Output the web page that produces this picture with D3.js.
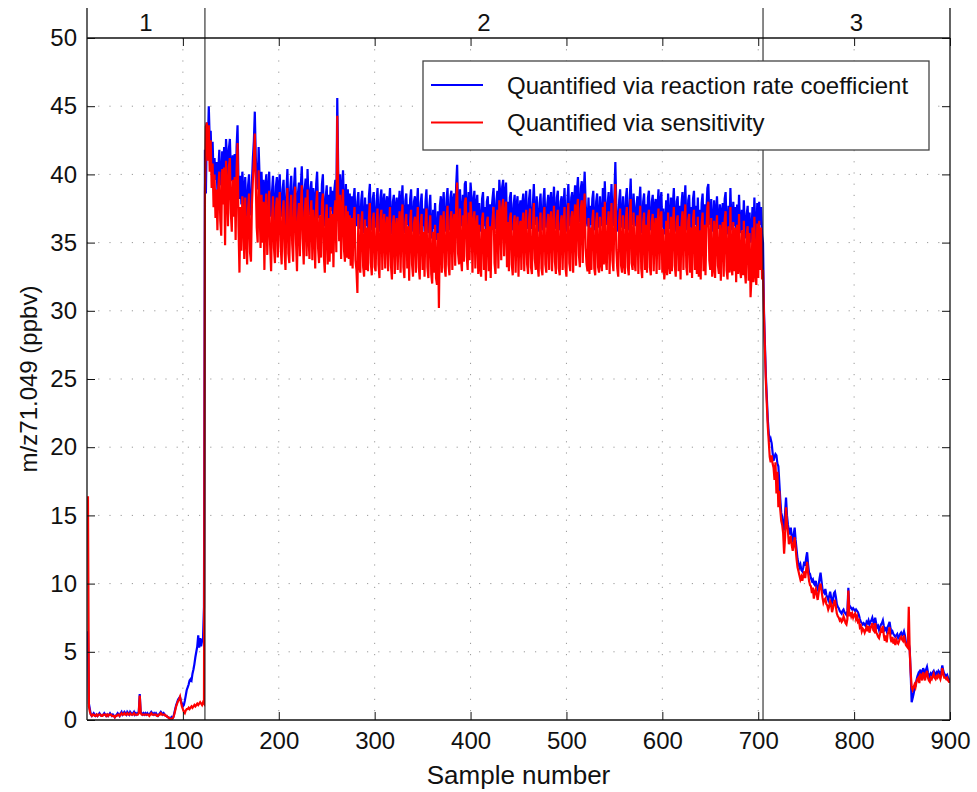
<!DOCTYPE html>
<html lang="en">

<head>
    <meta charset="UTF-8">
    <title>m/z71.049 quantification</title>
    <script src="https://d3js.org/d3.v7.min.js"></script>
    <style>
        body { margin: 0; background: #fff; }
        text { font-family: "Liberation Sans", Arial, sans-serif; fill: #111; }
    </style>
</head>

<body>
    <div id="chart"></div>

    <script>
        // phase 1: samples 1-122, quantified via reaction rate coefficient
        const phase1Rate = [
            6.5, 1.2, 0.8, 0.4, 0.3, 0.4, 0.5, 0.4, 0.3, 0.4,
            0.3, 0.4, 0.5, 0.4, 0.3, 0.3, 0.4, 0.5, 0.4, 0.3,
            0.4, 0.3, 0.4, 0.5, 0.4, 0.3, 0.4, 0.3, 0.2, 0.3,
            0.4, 0.5, 0.4, 0.3, 0.5, 0.6, 0.4, 0.5, 0.6, 0.5,
            0.4, 0.6, 0.5, 0.4, 0.6, 0.5, 0.4, 0.5, 0.6, 0.4,
            0.5, 0.4, 0.5, 0.6, 1.9, 0.6, 0.5, 0.4, 0.5, 0.4,
            0.5, 0.4, 0.5, 0.4, 0.4, 0.5, 0.6, 0.5, 0.4, 0.5,
            0.4, 0.5, 0.4, 0.3, 0.4, 0.5, 0.6, 0.5, 0.4, 0.5,
            0.4, 0.3, 0.3, 0.2, 0.2, 0.1, 0.1, 0.2, 0.1, 0.2,
            0.5, 0.8, 1.1, 1.3, 1.5, 1.6, 1.7, 1.4, 1.2, 1.0,
            1.1, 1.4, 1.8, 2.2, 2.4, 2.6, 2.9, 3.0, 2.9, 3.4,
            3.7, 4.1, 4.6, 5.0, 5.4, 6.2, 5.3, 6.0, 5.4, 5.8,
            6.0, 8.3
        ];
        const phase1Sens = [
            16.4, 1.0, 0.6, 0.4, 0.3, 0.4, 0.4, 0.3, 0.3, 0.4,
            0.3, 0.4, 0.4, 0.4, 0.3, 0.3, 0.4, 0.4, 0.4, 0.3,
            0.4, 0.3, 0.4, 0.4, 0.4, 0.3, 0.3, 0.3, 0.2, 0.3,
            0.3, 0.4, 0.4, 0.3, 0.4, 0.5, 0.4, 0.4, 0.5, 0.4,
            0.4, 0.5, 0.4, 0.4, 0.5, 0.4, 0.4, 0.4, 0.5, 0.4,
            0.4, 0.4, 0.4, 0.5, 1.8, 0.5, 0.4, 0.4, 0.4, 0.4,
            0.4, 0.4, 0.4, 0.4, 0.3, 0.4, 0.5, 0.4, 0.4, 0.4,
            0.4, 0.4, 0.3, 0.3, 0.4, 0.4, 0.5, 0.4, 0.4, 0.4,
            0.4, 0.3, 0.3, 0.2, 0.2, 0.1, 0.1, 0.1, 0.1, 0.2,
            0.4, 0.7, 1.0, 1.2, 1.4, 1.5, 1.7, 1.3, 1.0, 0.8,
            0.6, 0.5, 0.7, 0.8, 0.8, 0.9, 0.8, 0.9, 1.0, 0.9,
            1.0, 1.1, 1.0, 1.1, 1.2, 1.1, 1.2, 1.3, 1.2, 1.1,
            1.3, 1.2
        ];

        // phase 2: samples 123-705
        const phase2Rate = [
            41.8, 38.6, 43.8, 42.0, 45.0, 42.5, 43.2, 40.6, 42.4, 39.9,
            41.2, 39.6, 40.9, 38.8, 40.4, 41.8, 39.7, 39.2, 41.7, 40.1,
            42.0, 39.4, 42.6, 41.3, 39.6, 41.9, 42.6, 40.4, 39.5, 41.4,
            39.6, 41.5, 38.7, 42.0, 43.6, 39.4, 38.2, 39.9, 37.8, 40.2,
            38.9, 37.2, 39.8, 38.1, 36.9, 39.2, 40.0, 37.6, 37.0, 39.4,
            41.2, 42.4, 44.6, 41.3, 39.6, 38.9, 42.0, 39.8, 38.1, 40.2,
            37.9, 39.6, 36.8, 39.1, 40.0, 37.3, 38.8, 40.2, 37.5, 36.9,
            38.8, 39.9, 37.4, 36.6, 39.1, 39.8, 37.0, 39.2, 40.0, 37.5,
            36.9, 38.9, 39.6, 37.2, 36.3, 38.8, 40.4, 37.4, 36.6, 39.0,
            39.9, 37.7, 36.8, 39.3, 40.5, 37.8, 36.4, 38.6, 39.4, 37.0,
            39.2, 40.6, 38.0, 36.7, 38.9, 39.7, 37.2, 40.4, 38.2, 37.0,
            38.9, 39.5, 36.9, 39.0, 38.3, 36.4, 39.3, 40.2, 37.6, 36.8,
            38.7, 37.0, 39.3, 40.0, 37.1, 36.2, 38.4, 39.2, 36.6, 38.5,
            36.8, 39.1, 37.3, 38.8, 36.4, 38.9, 39.6, 37.4, 45.6, 40.2,
            38.2, 40.0, 37.0, 38.9, 40.3, 37.6, 36.8, 39.3, 37.1, 38.9,
            36.9, 38.6, 36.6, 38.4, 36.3, 38.2, 39.0, 36.8, 36.2, 38.0,
            38.7, 36.5, 36.0, 38.1, 38.8, 36.4, 35.7, 38.3, 36.2, 37.8,
            36.0, 38.4, 39.3, 36.7, 35.9, 38.2, 38.7, 36.4, 36.1, 38.0,
            39.0, 36.6, 35.8, 38.3, 38.9, 36.2, 37.9, 38.6, 36.3, 37.7,
            38.4, 36.1, 37.8, 39.0, 36.5, 35.6, 38.0, 38.5, 35.9, 37.6,
            38.3, 36.2, 37.7, 38.8, 36.0, 37.9, 39.2, 36.4, 35.7, 38.1,
            38.6, 36.3, 37.8, 35.5, 38.2, 38.9, 36.6, 35.8, 38.0, 38.4,
            36.1, 37.7, 39.0, 36.4, 35.6, 37.9, 38.6, 36.2, 37.5, 35.8,
            38.0, 38.9, 36.4, 35.7, 37.6, 38.5, 35.9, 35.3, 37.4, 36.0,
            37.9, 35.6, 35.2, 37.3, 35.0, 37.7, 38.4, 36.0, 37.8, 38.7,
            36.4, 35.8, 38.2, 39.0, 36.6, 35.9, 38.3, 38.8, 36.3, 38.0,
            38.6, 36.5, 39.2, 40.7, 37.4, 36.7, 38.9, 37.0, 36.2, 38.5,
            36.8, 39.3, 39.5, 37.2, 36.3, 38.7, 36.9, 39.4, 38.4, 36.1,
            38.0, 38.8, 36.3, 37.7, 38.5, 36.0, 37.9, 36.4, 35.8, 38.2,
            38.7, 36.2, 37.6, 35.5, 38.0, 38.4, 36.1, 37.8, 35.7, 37.5,
            38.3, 39.0, 36.7, 36.0, 38.1, 38.8, 36.3, 39.6, 38.5, 36.9,
            39.1, 39.6, 37.2, 38.6, 39.4, 36.4, 38.0, 36.2, 38.3, 38.7,
            36.6, 35.9, 37.8, 38.5, 36.1, 37.7, 38.4, 35.8, 37.5, 38.1,
            36.3, 37.9, 38.6, 36.2, 37.4, 38.8, 36.7, 36.0, 38.2, 38.9,
            36.5, 36.0, 37.8, 39.3, 37.0, 36.3, 38.4, 36.6, 35.8, 37.9,
            38.6, 36.4, 35.9, 38.2, 39.0, 36.7, 36.1, 37.8, 38.5, 36.3,
            38.0, 38.7, 36.2, 37.6, 39.1, 36.9, 36.0, 38.3, 38.8, 36.4,
            35.9, 38.0, 38.4, 36.3, 37.7, 39.0, 36.5, 35.8, 38.1, 39.3,
            36.8, 36.2, 38.3, 38.7, 36.1, 37.9, 39.2, 36.6, 38.8, 39.8,
            37.4, 36.5, 39.0, 39.5, 36.8, 38.6, 40.2, 37.9, 36.7, 36.2,
            38.3, 36.0, 37.7, 36.3, 38.2, 38.8, 36.4, 35.9, 38.0, 38.6,
            36.5, 36.1, 38.4, 36.8, 36.2, 39.0, 36.7, 39.5, 37.2, 36.3,
            37.9, 38.7, 36.0, 37.6, 39.3, 37.0, 36.2, 38.5, 40.9, 37.8,
            36.4, 35.8, 38.1, 38.9, 36.6, 36.1, 38.4, 36.8, 36.0, 38.3,
            39.0, 36.5, 35.9, 38.2, 39.7, 36.8, 36.3, 38.6, 37.0, 36.2,
            37.7, 38.4, 36.0, 37.9, 39.1, 36.4, 35.7, 38.0, 38.6, 36.3,
            37.8, 36.1, 38.3, 38.8, 36.5, 35.9, 38.0, 38.5, 36.2, 37.6,
            38.2, 36.0, 37.7, 38.9, 36.3, 38.0, 38.7, 36.1, 37.5, 35.6,
            36.4, 38.1, 35.9, 38.6, 36.7, 36.0, 38.3, 36.2, 37.8, 39.0,
            36.6, 35.8, 38.0, 38.4, 36.2, 37.7, 35.6, 37.9, 38.7, 36.3,
            37.8, 39.2, 36.5, 35.9, 38.1, 38.5, 36.1, 37.6, 35.7, 38.2,
            38.8, 36.3, 37.7, 36.0, 38.3, 35.8, 37.4, 35.6, 37.9, 38.6,
            36.2, 37.8, 35.9, 37.5, 39.0, 39.3, 37.0, 36.3, 38.2, 35.8,
            36.4, 38.1, 35.7, 37.3, 38.4, 36.6, 36.0, 37.8, 35.5, 37.2,
            37.9, 35.8, 38.2, 38.7, 36.3, 35.6, 37.7, 36.1, 39.0, 36.5,
            35.9, 38.0, 36.2, 37.6, 35.4, 37.8, 36.0, 38.5, 36.4, 35.7,
            37.4, 35.9, 38.1, 36.3, 35.3, 37.1, 37.7, 35.5, 37.2, 35.0,
            35.8, 37.6, 35.4, 38.3, 36.0, 35.2, 37.9, 35.7, 38.0, 36.3,
            37.6, 35.6, 35.0
        ];
        const phase2Sens = [
            38.6, 43.5, 43.8, 41.0, 43.6, 40.2, 42.5, 39.0, 40.8, 37.6,
            40.0, 36.8, 38.9, 35.9, 39.1, 40.2, 36.6, 35.5, 40.4, 37.8,
            40.5, 34.8, 41.0, 39.0, 36.2, 40.6, 41.2, 37.2, 35.8, 39.6,
            36.9, 39.8, 35.2, 40.3, 42.3, 36.2, 32.8, 37.6, 34.4, 38.4,
            37.0, 33.8, 38.3, 35.6, 33.4, 37.5, 38.6, 34.3, 33.6, 37.8,
            39.6, 41.0, 43.0, 39.4, 36.1, 35.0, 40.3, 37.5, 34.6, 38.5,
            35.0, 38.0, 33.0, 37.4, 38.6, 34.1, 36.5, 38.8, 34.8, 32.9,
            36.8, 38.4, 34.6, 33.5, 37.5, 38.3, 33.9, 37.6, 38.7, 34.7,
            33.4, 37.2, 38.1, 34.5, 33.0, 37.0, 39.0, 34.2, 33.5, 37.4,
            38.5, 34.9, 33.6, 37.8, 39.1, 35.0, 32.9, 36.8, 37.9, 34.0,
            37.6, 39.2, 35.3, 33.4, 37.2, 38.3, 34.0, 38.9, 35.6, 33.8,
            37.2, 38.1, 33.7, 37.4, 36.2, 33.1, 37.7, 38.8, 34.6, 33.5,
            37.0, 33.9, 37.8, 38.6, 34.0, 32.8, 36.6, 37.8, 33.4, 36.8,
            33.6, 37.6, 34.2, 37.1, 33.2, 37.3, 38.1, 34.3, 44.3, 38.4,
            35.1, 38.5, 33.8, 37.2, 38.9, 34.5, 33.6, 37.7, 33.9, 37.3,
            33.8, 37.0, 33.3, 36.8, 33.1, 36.5, 37.6, 33.7, 33.0, 31.3,
            37.1, 33.4, 32.8, 36.5, 37.3, 33.2, 32.5, 36.7, 33.0, 36.1,
            32.9, 36.8, 37.9, 33.5, 32.6, 36.6, 37.2, 33.2, 32.9, 36.4,
            37.5, 33.4, 32.4, 36.7, 37.4, 33.0, 36.2, 37.1, 33.1, 36.0,
            36.9, 32.9, 36.1, 37.6, 33.3, 32.3, 36.4, 37.0, 32.7, 36.0,
            36.8, 33.0, 36.0, 37.3, 32.8, 36.3, 37.8, 33.2, 32.4, 36.5,
            37.1, 33.1, 36.2, 32.2, 36.6, 37.4, 33.4, 32.5, 36.4, 36.9,
            32.8, 36.1, 37.6, 33.2, 32.3, 36.3, 37.1, 33.0, 35.8, 32.5,
            36.4, 37.5, 33.2, 32.4, 36.0, 37.0, 32.7, 32.0, 35.8, 32.8,
            36.3, 32.4, 31.9, 35.7, 30.2, 36.1, 37.0, 32.8, 36.2, 37.3,
            33.2, 32.5, 36.6, 37.7, 33.4, 32.6, 36.7, 37.3, 33.0, 36.4,
            37.1, 33.3, 37.8, 39.4, 34.2, 33.4, 37.5, 33.8, 32.9, 37.0,
            33.6, 37.9, 38.3, 34.0, 33.0, 37.2, 33.7, 38.0, 36.9, 32.8,
            36.5, 37.3, 33.1, 36.1, 37.0, 32.7, 36.3, 33.2, 32.5, 36.7,
            37.2, 33.0, 36.0, 32.2, 36.5, 36.9, 32.9, 36.2, 32.4, 35.9,
            36.8, 37.6, 33.5, 32.7, 36.6, 37.4, 33.1, 38.1, 37.0, 33.7,
            37.6, 38.2, 34.0, 37.1, 38.0, 33.2, 36.5, 32.9, 36.8, 37.2,
            33.4, 32.6, 36.3, 37.0, 32.8, 36.1, 36.9, 32.5, 35.9, 36.6,
            33.0, 36.3, 37.2, 32.9, 35.8, 37.4, 33.4, 32.7, 36.7, 37.5,
            33.2, 32.7, 36.2, 37.9, 33.8, 33.0, 36.9, 33.3, 32.5, 36.4,
            37.2, 33.1, 32.6, 36.7, 37.6, 33.4, 32.8, 36.3, 37.1, 33.0,
            36.5, 37.3, 32.9, 36.0, 37.7, 33.6, 32.7, 36.8, 37.4, 33.1,
            32.6, 36.4, 37.0, 33.0, 36.1, 37.6, 33.2, 32.5, 36.6, 37.9,
            33.5, 32.9, 36.8, 37.3, 32.8, 36.3, 37.8, 33.3, 37.4, 38.2,
            34.1, 33.2, 37.5, 38.1, 33.5, 37.1, 38.6, 34.6, 33.4, 32.9,
            36.8, 32.7, 36.1, 33.0, 36.7, 37.4, 33.1, 32.6, 36.5, 37.2,
            33.2, 32.8, 36.9, 33.5, 32.9, 37.6, 33.4, 38.0, 33.9, 33.0,
            36.3, 37.3, 32.7, 36.0, 37.9, 33.7, 32.9, 37.1, 39.3, 34.5,
            33.1, 32.5, 36.6, 37.5, 33.3, 32.8, 37.0, 33.5, 32.7, 36.8,
            37.6, 33.2, 32.6, 36.7, 38.2, 33.5, 33.0, 37.2, 33.7, 32.9,
            36.2, 37.0, 32.7, 36.4, 37.7, 33.1, 32.4, 36.5, 37.2, 33.0,
            36.3, 32.8, 36.8, 37.4, 33.2, 32.6, 36.5, 37.1, 32.9, 36.0,
            36.8, 32.7, 36.2, 37.5, 33.0, 36.5, 37.3, 32.8, 36.0, 32.3,
            33.1, 36.6, 32.6, 37.2, 33.4, 32.7, 36.9, 32.9, 36.3, 37.6,
            33.3, 32.5, 36.5, 37.0, 32.9, 36.2, 32.3, 36.4, 37.3, 33.0,
            36.3, 37.8, 33.2, 32.6, 36.6, 37.1, 32.8, 36.1, 32.4, 36.7,
            37.4, 33.0, 36.2, 32.7, 36.9, 32.5, 35.9, 32.3, 36.4, 37.2,
            32.9, 36.3, 32.6, 36.0, 37.6, 38.0, 33.7, 33.0, 36.8, 32.5,
            33.1, 36.6, 32.4, 35.8, 37.0, 33.3, 32.7, 36.3, 32.2, 35.7,
            36.5, 32.5, 36.7, 37.3, 33.0, 32.3, 36.2, 32.8, 37.6, 33.2,
            32.6, 36.5, 32.9, 36.1, 32.1, 36.3, 32.7, 37.1, 33.1, 32.4,
            35.9, 32.6, 36.6, 33.0, 32.0, 35.6, 36.2, 32.2, 35.7, 31.0,
            32.5, 36.1, 32.1, 36.9, 32.7, 31.9, 36.4, 32.4, 36.6, 33.0,
            36.1, 32.3, 33.0
        ];

        // phase 3: samples 706-900
        const phase3Rate = [
            30.0, 27.5, 25.2, 23.6, 22.0, 21.0, 20.4, 20.6, 20.3, 19.6,
            19.0, 19.3, 19.5, 19.4, 18.8, 18.6, 17.4, 16.2, 15.2, 14.9,
            14.2, 13.9, 15.2, 16.3, 15.0, 14.3, 13.9, 13.6, 14.1, 13.4,
            13.0, 13.6, 14.1, 13.2, 12.5, 11.8, 11.5, 11.2, 11.4, 11.0,
            10.9, 11.2, 11.6, 11.3, 11.9, 12.3, 11.4, 10.8, 10.7, 10.4,
            10.2, 10.3, 10.0, 9.9, 10.2, 9.8, 9.6, 9.9, 10.4, 10.8,
            10.2, 9.6, 9.4, 9.3, 9.6, 9.2, 9.0, 8.8, 9.1, 9.4,
            9.0, 8.6, 8.8, 9.3, 9.4, 9.0, 8.5, 8.3, 8.2, 8.0,
            7.9, 7.8, 8.0, 8.1, 7.9, 7.8, 7.7, 8.0, 9.7, 8.2,
            8.3, 8.2, 8.1, 8.2, 8.1, 8.0, 8.1, 8.0, 7.9, 7.7,
            7.4, 7.2, 7.1, 7.0, 7.1, 7.0, 6.9, 7.2, 7.1, 7.3,
            7.0, 7.2, 7.3, 7.5, 7.2, 7.0, 7.5, 7.1, 6.8, 6.9,
            6.6, 6.8, 7.0, 7.1, 7.3, 6.9, 6.6, 6.7, 6.5, 6.8,
            7.0, 7.2, 6.7, 6.4, 6.5, 6.3, 6.2, 6.1, 6.2, 6.3,
            6.0, 6.1, 6.3, 6.4, 6.2, 6.3, 6.5, 6.2, 5.7, 5.6,
            5.5, 5.6, 5.2, 3.4, 1.3, 1.6, 1.9, 2.3, 2.5, 2.9,
            3.2, 3.4, 3.2, 3.7, 3.5, 3.3, 3.8, 3.6, 3.4, 3.7,
            3.9, 3.5, 3.3, 3.1, 3.4, 3.3, 3.5, 3.6, 3.4, 3.3,
            3.5, 3.4, 3.6, 3.5, 3.3, 3.6, 4.0, 3.6, 3.4, 3.3,
            3.2, 3.3, 3.1, 3.0, 2.9
        ];
        const phase3Sens = [
            29.6, 27.1, 24.8, 23.1, 21.5, 20.4, 19.3, 18.9, 19.4, 18.8,
            18.5, 17.6, 18.9, 16.6, 18.2, 15.6, 16.8, 15.4, 14.6, 14.3,
            13.7, 12.2, 13.4, 15.6, 14.4, 13.8, 12.9, 13.1, 13.5, 12.8,
            12.4, 12.9, 13.4, 12.6, 11.8, 11.2, 10.9, 10.6, 10.3, 10.5,
            10.2, 10.6, 10.9, 10.4, 11.0, 11.6, 10.8, 10.2, 9.9, 9.8,
            9.3, 9.7, 8.9, 9.4, 9.6, 9.2, 8.8, 9.3, 9.8, 10.0,
            9.5, 9.0, 8.6, 8.8, 8.9, 8.5, 8.4, 8.1, 8.3, 8.7,
            8.5, 7.9, 8.2, 8.6, 8.8, 8.3, 7.8, 7.6, 7.5, 7.3,
            7.4, 7.2, 7.3, 7.6, 7.4, 7.1, 7.0, 7.4, 9.5, 7.6,
            7.9, 7.6, 7.8, 7.5, 7.7, 7.8, 7.4, 7.6, 7.2, 7.3,
            6.8, 6.9, 6.5, 6.7, 6.6, 6.4, 6.6, 6.8, 6.5, 6.9,
            6.4, 6.7, 6.9, 7.1, 6.6, 6.5, 7.1, 6.4, 6.3, 6.1,
            6.0, 6.3, 6.6, 6.4, 6.9, 6.2, 5.8, 6.2, 5.7, 6.3,
            6.5, 6.8, 6.0, 5.7, 6.1, 5.6, 5.8, 5.5, 5.9, 5.7,
            5.6, 5.8, 6.0, 6.1, 5.9, 5.8, 6.2, 5.8, 5.5, 5.4,
            5.3, 8.3, 5.0, 3.5, 2.4, 2.2, 2.4, 2.6, 2.4, 2.8,
            3.0, 3.1, 2.7, 3.4, 3.2, 2.9, 3.5, 3.3, 2.9, 3.4,
            3.6, 3.1, 2.9, 2.8, 3.1, 3.0, 3.2, 3.4, 3.1, 3.0,
            3.2, 3.1, 3.3, 3.2, 3.0, 3.3, 3.8, 3.4, 3.1, 3.1,
            3.0, 3.1, 2.9, 2.8, 2.8
        ];

        const rateCoeff = phase1Rate.concat(phase2Rate, phase3Rate);
        const sensitivity = phase1Sens.concat(phase2Sens, phase3Sens);
        const sampleNumbers = rateCoeff.map((d, i) => i + 1);

        const xTicks = [100, 200, 300, 400, 500, 600, 700, 800, 900];
        const yTicks = [0, 5, 10, 15, 20, 25, 30, 35, 40, 45, 50];
        const phaseEdges = [0, 123, 705, 900];
        const phaseLabels = ["1", "2", "3"];
        const legendLabels = ["Quantified via reaction rate coefficient", "Quantified via sensitivity"];

        const width = 977;
        const height = 792;
        const margin = { top: 38, right: 27, bottom: 72, left: 87 };
        const innerWidth = width - margin.left - margin.right;
        const innerHeight = height - margin.top - margin.bottom;

        const svg = d3.select("#chart")
            .append("svg")
            .attr("width", width)
            .attr("height", height);

        const g = svg.append("g")
            .attr("transform", `translate(${margin.left}, ${margin.top})`);

        const x = d3.scaleLinear().domain([0, 900]).range([0, innerWidth]);
        const y = d3.scaleLinear().domain([0, 50]).range([innerHeight, 0]);

        // dotted grid
        g.append("g")
            .selectAll("line")
            .data(yTicks.filter(d => d > 0 && d < 50))
            .join("line")
            .attr("x1", 0).attr("x2", innerWidth)
            .attr("y1", d => y(d)).attr("y2", d => y(d))
            .attr("stroke", "#999")
            .attr("stroke-dasharray", "1.2,10");

        g.append("g")
            .selectAll("line")
            .data(xTicks.filter(d => d < 900))
            .join("line")
            .attr("x1", d => x(d)).attr("x2", d => x(d))
            .attr("y1", 0).attr("y2", innerHeight)
            .attr("stroke", "#999")
            .attr("stroke-dasharray", "1.2,10");

        // series
        g.append("clipPath").attr("id", "plot-clip")
            .append("rect").attr("width", innerWidth).attr("height", innerHeight);

        const line = d3.line()
            .x((d, i) => x(sampleNumbers[i]))
            .y(d => y(d));

        g.append("path")
            .datum(rateCoeff)
            .attr("clip-path", "url(#plot-clip)")
            .attr("fill", "none")
            .attr("stroke", "#0000ff")
            .attr("stroke-width", 2.2)
            .attr("d", line);

        g.append("path")
            .datum(sensitivity)
            .attr("clip-path", "url(#plot-clip)")
            .attr("fill", "none")
            .attr("stroke", "#ff0000")
            .attr("stroke-width", 2.2)
            .attr("d", line);

        // axes, ticks pointing inwards on all four sides
        const tickFont = g => g.selectAll("text").attr("font-size", 24).attr("fill", "#111");

        g.append("g")
            .attr("transform", `translate(0, ${innerHeight})`)
            .call(d3.axisBottom(x).tickValues(xTicks).tickSizeInner(-8).tickSizeOuter(0).tickPadding(12))
            .call(tickFont);

        g.append("g")
            .call(d3.axisLeft(y).tickValues(yTicks).tickSizeInner(-8).tickSizeOuter(0).tickPadding(10))
            .call(tickFont);

        g.append("g")
            .call(d3.axisTop(x).tickValues(xTicks).tickSizeInner(-8).tickSizeOuter(0).tickFormat(""));

        g.append("g")
            .attr("transform", `translate(${innerWidth}, 0)`)
            .call(d3.axisRight(y).tickValues(yTicks).tickSizeInner(-8).tickSizeOuter(0).tickFormat(""));

        g.selectAll(".domain").remove();
        g.selectAll(".tick line").attr("stroke", "#111");
        g.selectAll(".tick text").attr("font-family", null);

        // frame; side lines run up past the top to enclose the phase labels
        const frame = g.append("g").attr("stroke", "#111").attr("stroke-width", 1.3);
        frame.append("line").attr("x1", 0).attr("x2", innerWidth).attr("y1", 0).attr("y2", 0);
        frame.append("line").attr("x1", 0).attr("x2", innerWidth).attr("y1", innerHeight).attr("y2", innerHeight);
        frame.append("line").attr("x1", 0).attr("x2", 0).attr("y1", -30).attr("y2", innerHeight);
        frame.append("line").attr("x1", innerWidth).attr("x2", innerWidth).attr("y1", -30).attr("y2", innerHeight);

        // phase separators and labels
        g.append("g")
            .selectAll("line")
            .data(phaseEdges.slice(1, -1))
            .join("line")
            .attr("x1", d => x(d)).attr("x2", d => x(d))
            .attr("y1", -30).attr("y2", innerHeight)
            .attr("stroke", "#111")
            .attr("stroke-width", 1);

        g.append("g")
            .selectAll("text")
            .data(phaseLabels)
            .join("text")
            .attr("x", (d, i) => x((phaseEdges[i] + phaseEdges[i + 1]) / 2))
            .attr("y", -16)
            .attr("text-anchor", "middle")
            .attr("dominant-baseline", "central")
            .attr("font-size", 24)
            .text(d => d);

        // legend
        const legend = g.append("g").attr("transform", `translate(${423 - margin.left}, ${61 - margin.top})`);
        legend.append("rect")
            .attr("width", 506).attr("height", 89)
            .attr("fill", "#fff")
            .attr("stroke", "#444")
            .attr("stroke-width", 1.3);

        const legendColors = ["#0000ff", "#ff0000"];
        legendLabels.forEach((label, i) => {
            const ly = 24 + i * 37.5;
            legend.append("line")
                .attr("x1", 8).attr("x2", 60)
                .attr("y1", ly).attr("y2", ly)
                .attr("stroke", legendColors[i])
                .attr("stroke-width", 2);
            legend.append("text")
                .attr("x", 84).attr("y", ly)
                .attr("dominant-baseline", "central")
                .attr("font-size", 24)
                .text(label);
        });

        // axis titles
        svg.append("text")
            .attr("x", margin.left + innerWidth / 2)
            .attr("y", 775)
            .attr("text-anchor", "middle")
            .attr("dominant-baseline", "central")
            .attr("font-size", 26)
            .text("Sample number");

        svg.append("text")
            .attr("transform", `translate(28, ${margin.top + innerHeight / 2}) rotate(-90)`)
            .attr("text-anchor", "middle")
            .attr("dominant-baseline", "central")
            .attr("font-size", 24)
            .text("m/z71.049 (ppbv)");
    </script>
</body>

</html>
